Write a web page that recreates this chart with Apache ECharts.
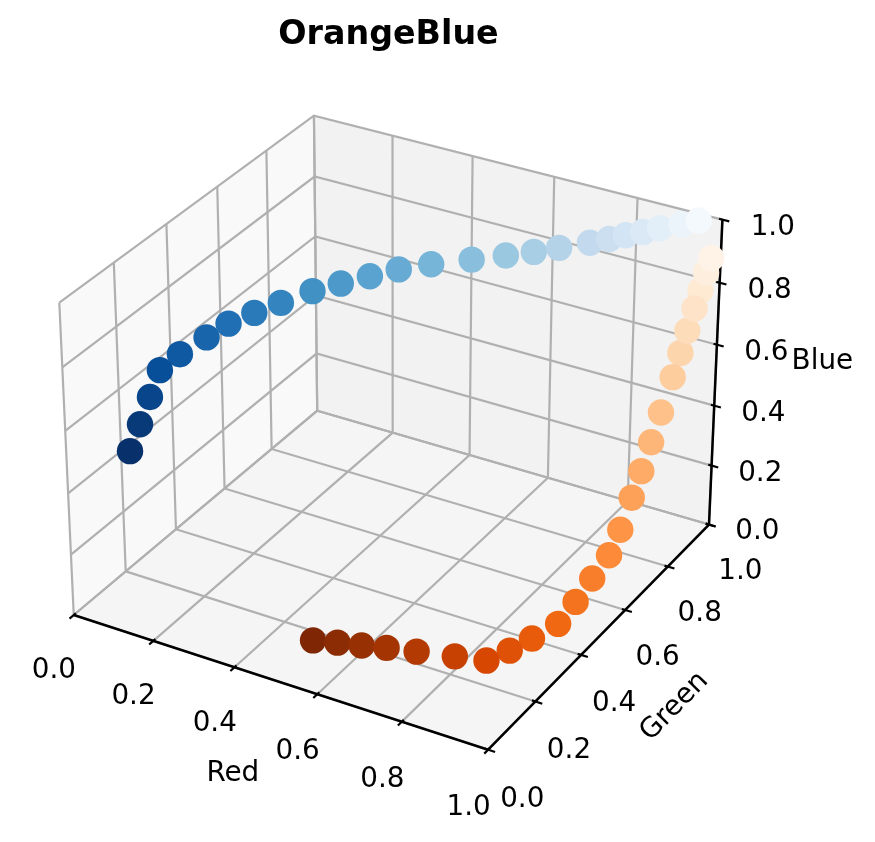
<!DOCTYPE html>
<html>
<head>
<meta charset="utf-8">
<script src="https://cdn.jsdelivr.net/npm/echarts@6/dist/echarts.min.js"></script>
<style>
html,body{margin:0;padding:0;background:#ffffff;}
#chart{width:875px;height:842px;}
</style>
</head>
<body>
<div id="chart"></div>
<script>
// ---------------- data ----------------
const titleText = 'OrangeBlue';
const axisNames = ['Red', 'Green', 'Blue'];
const tickValues = [0, 0.2, 0.4, 0.6, 0.8, 1.0];
const tickLabels = ['0.0', '0.2', '0.4', '0.6', '0.8', '1.0'];

const red = [0.031, 0.031, 0.031, 0.031, 0.057, 0.094, 0.125, 0.164, 0.205, 0.254,
             0.303, 0.354, 0.405, 0.464, 0.539, 0.602, 0.656, 0.705, 0.764, 0.799,
             0.828, 0.858, 0.888, 0.926, 0.956,
             1.000, 0.998, 0.997, 0.996, 0.994, 0.993, 0.992, 0.992, 0.992, 0.992,
             0.992, 0.992, 0.988, 0.973, 0.958, 0.941, 0.906, 0.876, 0.842, 0.779,
             0.703, 0.643, 0.594, 0.546, 0.498];
const green = [0.188, 0.229, 0.270, 0.311, 0.350, 0.398, 0.437, 0.478, 0.519, 0.568,
               0.603, 0.638, 0.672, 0.707, 0.748, 0.783, 0.807, 0.828, 0.854, 0.874,
               0.894, 0.913, 0.933, 0.957, 0.977,
               0.953, 0.935, 0.913, 0.890, 0.863, 0.836, 0.805, 0.755, 0.713, 0.671,
               0.630, 0.581, 0.540, 0.495, 0.451, 0.407, 0.358, 0.317, 0.279, 0.257,
               0.230, 0.209, 0.190, 0.172, 0.153];
const blue = [0.420, 0.480, 0.541, 0.601, 0.637, 0.674, 0.705, 0.728, 0.749, 0.774,
              0.794, 0.814, 0.833, 0.849, 0.865, 0.879, 0.895, 0.912, 0.933, 0.945,
              0.955, 0.964, 0.974, 0.986, 0.996,
              0.907, 0.871, 0.828, 0.785, 0.730, 0.676, 0.618, 0.537, 0.469, 0.404,
              0.346, 0.276, 0.220, 0.170, 0.119, 0.072, 0.045, 0.023, 0.004, 0.007,
              0.010, 0.012, 0.013, 0.015, 0.016];

// ---------------- view / layout ----------------
const W = 875, H = 842;
const VIEW = { elev: 30, azim: -60, dist: 10, box: [4, 4, 3] };
const PLACE = { cx: 397, cy: 418, scale: 4155 };   // where the projected view sits on the page
const LIM = [0, 1];                               // each axis runs 0..1
const FONT = 'DejaVu Sans';
const TICK_FS = 27.8, TITLE_FS = 33.3;
const LW = 2.2;
const TEXT_DY = 0.5;                              // baseline calibration (px)
const LABEL_OFF = 0.079, NAME_OFF = 0.1717;       // label offsets from the box (axis units)
const TICK_OUT = 0.016, TICK_IN = 0.008;

// ---------------- perspective projection (same scheme as a 3D axes) ----------------
const nrm = Math.hypot(...VIEW.box);
const A = VIEW.box.map(v => v * 1.8294640721620434 / nrm);
const Rc = A.map(v => v / 2);
const er = VIEW.elev * Math.PI / 180, ar = VIEW.azim * Math.PI / 180;
const ps = [Math.cos(er) * Math.cos(ar), Math.cos(er) * Math.sin(ar), Math.sin(er)];
const EYE = Rc.map((r, i) => r + VIEW.dist * ps[i]);
function sub(a, b) { return [a[0] - b[0], a[1] - b[1], a[2] - b[2]]; }
function dot(a, b) { return a[0] * b[0] + a[1] * b[1] + a[2] * b[2]; }
function cross(a, b) { return [a[1] * b[2] - a[2] * b[1], a[2] * b[0] - a[0] * b[2], a[0] * b[1] - a[1] * b[0]]; }
function unit(a) { const n = Math.hypot(a[0], a[1], a[2]); return [a[0] / n, a[1] / n, a[2] / n]; }
const wv = unit(sub(EYE, Rc));
const uv = unit(cross([0, 0, 1], wv));
const vv = cross(wv, uv);
function project(p) {
  const q = [0, 1, 2].map(i => (p[i] - LIM[0]) / (LIM[1] - LIM[0]) * A[i]);
  const d = sub(q, EYE);
  const zd = -dot(wv, d);
  return [dot(uv, d) / zd, dot(vv, d) / zd, zd];
}

// ---------------- frame geometry from the tick arrays ----------------
const lo = LIM[0], hi = LIM[1];
const panes = [
  { pts: [[lo, lo, lo], [lo, hi, lo], [lo, hi, hi], [lo, lo, hi]], fill: '#f9f9f9' },
  { pts: [[lo, hi, lo], [hi, hi, lo], [hi, hi, hi], [lo, hi, hi]], fill: '#f2f2f2' },
  { pts: [[lo, lo, lo], [hi, lo, lo], [hi, hi, lo], [lo, hi, lo]], fill: '#f5f5f5' }
];
const gridLines = [];
tickValues.forEach(t => {
  gridLines.push([[t, lo, lo], [t, hi, lo], [t, hi, hi]]);
  gridLines.push([[hi, t, lo], [lo, t, lo], [lo, t, hi]]);
  gridLines.push([[lo, lo, t], [lo, hi, t], [hi, hi, t]]);
});
const axisLines = [
  [[lo, lo, lo], [hi, lo, lo]],
  [[hi, lo, lo], [hi, hi, lo]],
  [[hi, hi, lo], [hi, hi, hi]]
];
const tickLines = [];
const texts = [];
tickValues.forEach((t, k) => {
  tickLines.push([[t, lo - TICK_OUT, lo], [t, lo + TICK_IN, lo]]);
  tickLines.push([[hi + TICK_OUT, t, lo], [hi - TICK_IN, t, lo]]);
  tickLines.push([[hi + TICK_OUT, hi, t], [hi - TICK_IN, hi, t]]);
  texts.push({ pos: [t, lo - LABEL_OFF, lo - LABEL_OFF], text: tickLabels[k], va: 'top' });
  texts.push({ pos: [hi + LABEL_OFF, t, lo - LABEL_OFF], text: tickLabels[k], va: 'top' });
  texts.push({ pos: [hi + LABEL_OFF, hi + LABEL_OFF, t], text: tickLabels[k], va: 'top' });
});
const mid = (lo + hi) / 2;
texts.push({ pos: [mid, lo - NAME_OFF, lo - NAME_OFF], text: axisNames[0], va: 'middle' });
texts.push({ pos: [hi + NAME_OFF, mid, lo - NAME_OFF], text: axisNames[1], va: 'middle',
             rotAlong: [[hi, lo, lo], [hi, hi, lo]] });
texts.push({ pos: [hi + NAME_OFF, hi + NAME_OFF, mid], text: axisNames[2], va: 'middle' });

// ---------------- points ----------------
function to255(v) { return Math.round(v * 255); }
const pts = red.map((r, i) => {
  const pr = project([r, green[i], blue[i]]);
  return { value: [pr[0], pr[1]], depth: pr[2],
           itemStyle: { color: 'rgb(' + to255(r) + ',' + to255(green[i]) + ',' + to255(blue[i]) + ')', opacity: 1 } };
});
pts.sort((a, b) => b.depth - a.depth);
const scatterData = pts.map(p => ({ value: p.value, itemStyle: p.itemStyle }));

// ---------------- helpers for custom series ----------------
function idxData(arr) {
  return arr.map((g, i) => {
    const p0 = project(g.pts ? g.pts[0] : (g.pos ? g.pos : g[0]));
    return [p0[0], p0[1], i];
  });
}
function polySeries(name, arr, style, z) {
  return {
    type: 'custom', name: name, coordinateSystem: 'cartesian2d', silent: true, z: z,
    animation: false,
    data: idxData(arr),
    renderItem: function (params, api) {
      const g = arr[api.value(2)];
      const points = g.map(p => { const q = project(p); return api.coord([q[0], q[1]]); });
      return { type: 'polyline', shape: { points: points }, style: Object.assign({ fill: null }, style) };
    }
  };
}

const option = {
  backgroundColor: '#ffffff',
  animation: false,
  title: {
    text: titleText, left: 388.5, top: 19, textAlign: 'center', padding: 0,
    textStyle: { fontFamily: FONT, fontWeight: 'bold', fontSize: TITLE_FS, color: '#000000' }
  },
  grid: { left: 0, right: 0, top: 0, bottom: 0 },
  xAxis: { type: 'value', min: (0 - PLACE.cx) / PLACE.scale, max: (W - PLACE.cx) / PLACE.scale, show: false },
  yAxis: { type: 'value', min: (PLACE.cy - H) / PLACE.scale, max: PLACE.cy / PLACE.scale, show: false },
  series: [
    {
      type: 'custom', name: 'panes', coordinateSystem: 'cartesian2d', silent: true, z: 1,
      data: idxData(panes),
      renderItem: function (params, api) {
        const pn = panes[api.value(2)];
        const points = pn.pts.map(p => { const q = project(p); return api.coord([q[0], q[1]]); });
        return { type: 'polygon', shape: { points: points }, style: { fill: pn.fill, stroke: null } };
      }
    },
    polySeries('grid', gridLines, { stroke: '#b0b0b0', lineWidth: LW }, 2),
    polySeries('axes', axisLines, { stroke: '#000000', lineWidth: 2.5, lineCap: 'butt' }, 3),
    polySeries('ticks', tickLines, { stroke: '#000000', lineWidth: LW }, 3),
    {
      type: 'custom', name: 'labels', coordinateSystem: 'cartesian2d', silent: true, z: 4,
      data: idxData(texts),
      renderItem: function (params, api) {
        const t = texts[api.value(2)];
        const q = project(t.pos);
        const c = api.coord([q[0], q[1]]);
        let rot = 0;
        if (t.rotAlong) {
          const a = project(t.rotAlong[0]), b = project(t.rotAlong[1]);
          const ca = api.coord([a[0], a[1]]), cb = api.coord([b[0], b[1]]);
          rot = Math.atan2(-(cb[1] - ca[1]), cb[0] - ca[0]);
        }
        return {
          type: 'text', x: c[0], y: c[1] + TEXT_DY, rotation: rot,
          style: { text: t.text, fontFamily: FONT, fontSize: TICK_FS, fill: '#000000',
                   align: 'center', verticalAlign: t.va }
        };
      }
    },
    {
      type: 'scatter', name: 'colors', z: 5, silent: true,
      symbol: 'circle', symbolSize: 26.4,
      itemStyle: { opacity: 1 },
      data: scatterData,
      emphasis: { disabled: true }
    }
  ]
};

const chart = echarts.init(document.getElementById('chart'), null, { renderer: 'canvas', width: W, height: H });
chart.setOption(option);
</script>
</body>
</html>
